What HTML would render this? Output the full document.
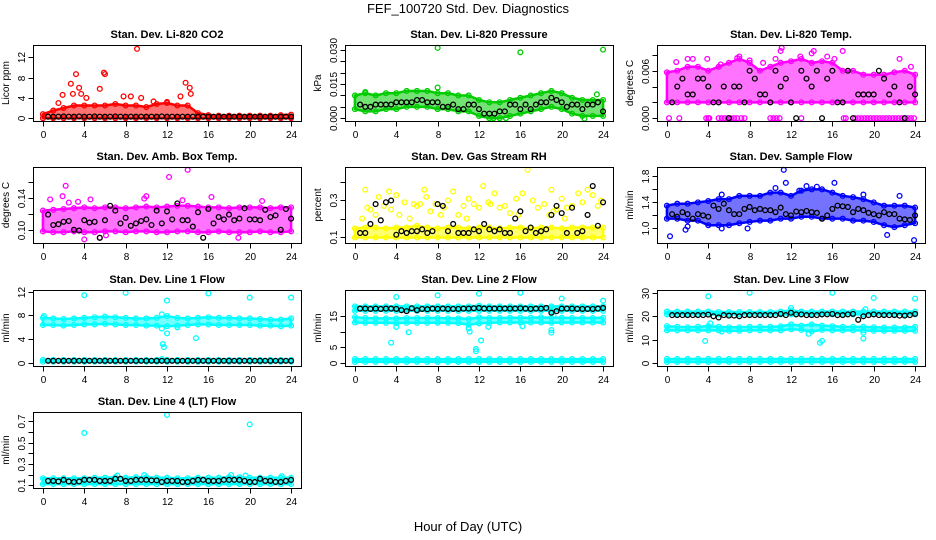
<!DOCTYPE html>
<html><head><meta charset="utf-8"><title>FEF_100720 Std. Dev. Diagnostics</title>
<style>
html,body{margin:0;padding:0;background:#fff;}
svg{display:block;font-family:"Liberation Sans",Arial,sans-serif;}
</style></head>
<body>
<svg id="chart" width="936" height="540" viewBox="0 0 936 540" xmlns="http://www.w3.org/2000/svg">
<rect width="936" height="540" fill="#fff"/>
<text x="468" y="13" text-anchor="middle" font-size="13">FEF_100720  Std. Dev. Diagnostics</text>
<text x="468" y="531" text-anchor="middle" font-size="13">Hour of Day (UTC)</text>
</svg>
<script>
// ---- shared data ----
const xTicks = [0,4,8,12,16,20,24];
const hours = [0,1,2,3,4,5,6,7,8,9,10,11,12,13,14,15,16,17,18,19,20,21,22,23,24];
const blackHours = [0.5,1,1.5,2,2.5,3,3.5,4,4.5,5,5.5,6,6.5,7,7.5,8,8.5,9,9.5,10,10.5,11,11.5,12,12.5,13,13.5,14,14.5,15,15.5,16,16.5,17,17.5,18,18.5,19,19.5,20,20.5,21,21.5,22,22.5,23,23.5,24];

// Panel 1: CO2
const co2BandLo = [0,0,0,0,0,0,0,0,0,0,0,0,0,0,0,0,0,0,0,0,0,0,0,0,0];
const co2BandHi = [0.8,1.5,2,2.5,2.5,2.5,2.5,2.8,2.5,2.5,2.2,2.8,3,2.5,2.5,1,0.6,0.5,0.5,0.5,0.5,0.5,0.5,0.6,0.7];
const co2OutX = [9.1,3.2,5.9,6,2.7,13.8,14.2,5.5,3.5,1.9,2.9,3.7,14.3,13.3,8.5,9.5,7.8,10.7,12,4.2,1.5];
const co2OutY = [13.7,8.7,9,8.7,6.8,7,6,5.8,6,4.6,4.8,4.8,4.8,4.3,4.3,4,4.3,3.3,3.2,4,3];
const co2Black = [0.3,0.3,0.3,0.35,0.3,0.3,0.35,0.3,0.3,0.35,0.3,0.3,0.3,0.35,0.3,0.3,0.3,0.3,0.3,0.3,0.3,0.3,0.35,0.3,0.3,0.3,0.3,0.3,0.3,0.3,0.3,0.3,0.3,0.3,0.3,0.3,0.3,0.3,0.3,0.3,0.3,0.3,0.3,0.3,0.3,0.3,0.3,0.3];

// Panel 2: Pressure
const presBandLo = [0.004,0.003,0.003,0.004,0.004,0.005,0.005,0.005,0.004,0.004,0.003,0.003,0.001,0.0,0.0,0.001,0.002,0.003,0.004,0.005,0.004,0.002,0.001,0.001,0.001];
const presBandHi = [0.010,0.011,0.010,0.011,0.011,0.012,0.012,0.012,0.011,0.011,0.010,0.010,0.008,0.007,0.007,0.008,0.009,0.010,0.011,0.012,0.011,0.009,0.008,0.008,0.008];
const presOutX = [8,16,24,8,1,23.4,22.2,14.6,13.4];
const presOutY = [0.031,0.029,0.0302,0.0135,0.0115,0.0105,-0.0002,0.0,0.0];
const presBlack = [0.006,0.005,0.005,0.006,0.006,0.006,0.006,0.007,0.007,0.007,0.007,0.008,0.008,0.007,0.007,0.007,0.005,0.005,0.006,0.004,0.004,0.006,0.006,0.004,0.002,0.002,0.002,0.003,0.003,0.006,0.006,0.004,0.006,0.004,0.006,0.007,0.007,0.009,0.008,0.007,0.005,0.006,0.006,0.004,0.006,0.006,0.007,0.003];

// Panel 3: Temp
const tempBandLo = [0.002,0.002,0.002,0.002,0.002,0.002,0.002,0.002,0.002,0.002,0.002,0.002,0.002,0.002,0.002,0.002,0.002,0.002,0.002,0.002,0.002,0.002,0.002,0.002,0.002];
const tempBandHi = [0.0058,0.006,0.0065,0.0065,0.006,0.0065,0.007,0.0075,0.007,0.006,0.0065,0.007,0.0072,0.0075,0.007,0.0072,0.007,0.006,0.006,0.0055,0.0055,0.0055,0.0058,0.006,0.0055];
const tempOutX = [0.9,2.5,3.9,5.2,7.0,8.0,10.5,11,12.9,14,15.5,17,11.1,14.2,22.5,23.6,6.8,2,9.3,16.2,0.2,1.2,3.8,4.0,4.1,5.0,5.3,5.6,5.9,6.2,6.5,6.8,7.2,7.5,10.0,10.3,10.6,10.9,13,17.1,17.3,18.2,18.5,18.8,19.1,19.4,19.7,20,20.3,20.6,20.9,21.2,21.5,21.8,22.1,22.4,22.7,23,23.3,23.6,23.9];
const tempOutY = [0.0071,0.0075,0.0075,0.0068,0.0078,0.0073,0.0075,0.0085,0.0078,0.0082,0.0078,0.0085,0.0089,0.0085,0.0075,0.0065,0.0076,0.0075,0.007,0.0075,0,0,0,0,0,0,0,0,0,0,0,0,0,0,0,0,0,0,0,0,0,0,0,0,0,0,0,0,0,0,0,0,0,0,0,0,0,0,0,0,0];
const tempBlack = [0.002,0.004,0.005,0.003,0.003,0.005,0.005,0.004,0.002,0.002,0.004,0.0,0.004,0.004,0.002,0.006,0.005,0.003,0.003,0.002,0.006,0.004,0.005,0.002,0.0,0.006,0.005,0.004,0.006,0.0,0.005,0.006,0.002,0.002,0.006,0.0,0.003,0.003,0.003,0.003,0.006,0.005,0.003,0.004,0.002,0.0,0.004,0.003];

// Panel 4: Amb box temp
const ambBandLo = [0.098,0.097,0.097,0.098,0.097,0.097,0.098,0.098,0.097,0.098,0.098,0.097,0.097,0.098,0.098,0.097,0.097,0.098,0.097,0.097,0.097,0.098,0.097,0.097,0.098];
const ambBandHi = [0.124,0.125,0.126,0.127,0.128,0.127,0.128,0.128,0.127,0.128,0.129,0.128,0.129,0.13,0.13,0.129,0.128,0.128,0.127,0.128,0.128,0.128,0.127,0.128,0.128];
const ambOutX = [14,12.2,2.2,0.7,1.9,4.6,10,16.3,4,18.9,5.5,13.5,21.2,3.4,9.8,2.5,6.1];
const ambOutY = [0.175,0.166,0.155,0.138,0.142,0.138,0.142,0.141,0.088,0.09,0.09,0.137,0.136,0.135,0.139,0.134,0.093];
const ambBlack = [0.119,0.106,0.107,0.11,0.111,0.1,0.099,0.112,0.109,0.11,0.09,0.112,0.13,0.124,0.108,0.115,0.105,0.108,0.111,0.113,0.106,0.124,0.108,0.123,0.113,0.133,0.112,0.112,0.104,0.122,0.09,0.126,0.108,0.116,0.113,0.119,0.112,0.114,0.127,0.113,0.113,0.112,0.125,0.116,0.118,0.1,0.126,0.114];

// Panel 5: RH
const rhBandLo = [0.095,0.095,0.095,0.095,0.095,0.095,0.095,0.095,0.095,0.095,0.095,0.095,0.095,0.095,0.095,0.095,0.095,0.095,0.095,0.095,0.095,0.095,0.095,0.095,0.095];
const rhBandHi = [0.145,0.15,0.15,0.145,0.15,0.15,0.16,0.15,0.145,0.15,0.15,0.145,0.15,0.15,0.145,0.15,0.15,0.145,0.15,0.15,0.145,0.15,0.15,0.15,0.15];
const rhOutX = [0.7,1,1.5,2,2.3,2.8,3.3,3.5,4,4.3,4.8,5.3,5.7,6,6.7,6.9,7.3,7.8,8.6,9,9.5,10,10.5,11,11.5,12,12.4,12.9,13.5,14,14.5,15,15.6,16.2,16.7,17.2,17.7,18.3,19,19.5,20,20.5,21,21.6,22,22.5,23,23.5,23.8,18.8,20.3,8.3,10.8,15.8,1.2,6.3,13.1,19.2];
const rhOutY = [0.2,0.36,0.25,0.22,0.32,0.27,0.35,0.25,0.33,0.22,0.29,0.2,0.28,0.27,0.36,0.32,0.24,0.28,0.26,0.3,0.35,0.22,0.27,0.31,0.28,0.26,0.38,0.29,0.34,0.26,0.27,0.23,0.31,0.34,0.47,0.3,0.26,0.28,0.36,0.25,0.31,0.26,0.27,0.34,0.29,0.36,0.33,0.27,0.3,0.22,0.2,0.22,0.2,0.22,0.26,0.28,0.28,0.24];
const rhBlack = [0.12,0.12,0.17,0.28,0.19,0.29,0.3,0.11,0.13,0.12,0.13,0.13,0.14,0.12,0.13,0.28,0.27,0.13,0.17,0.12,0.12,0.12,0.14,0.13,0.17,0.14,0.13,0.14,0.12,0.12,0.2,0.24,0.13,0.15,0.12,0.13,0.14,0.22,0.27,0.23,0.12,0.26,0.12,0.13,0.22,0.38,0.16,0.29];

// Panel 6: Sample flow
const flowBandLo = [1.15,1.15,1.12,1.12,1.05,1.05,1.05,1.08,1.1,1.12,1.12,1.15,1.15,1.18,1.18,1.15,1.15,1.15,1.12,1.12,1.1,1.05,1.02,1.05,1.08];
const flowBandHi = [1.35,1.38,1.38,1.4,1.42,1.45,1.45,1.5,1.5,1.5,1.55,1.55,1.5,1.58,1.6,1.6,1.55,1.5,1.48,1.45,1.4,1.35,1.35,1.35,1.32];
const flowOutX = [11.3,11.5,16.2,13.5,10.5,19,5.3,0.3,23.9,1.8,7.8,5.3,21.3,2,14.5,12.8,22.5];
const flowOutY = [1.9,1.7,1.7,1.65,1.62,1.52,1.52,0.88,0.82,0.98,1.0,1.0,0.9,1.03,1.64,1.58,1.5];
const flowBlack = [1.22,1.18,1.25,1.22,1.15,1.22,1.2,1.18,1.35,1.3,1.38,1.28,1.22,1.22,1.3,1.33,1.28,1.3,1.28,1.28,1.25,1.32,1.22,1.2,1.26,1.25,1.27,1.25,1.24,1.15,1.2,1.3,1.35,1.34,1.33,1.25,1.3,1.28,1.24,1.22,1.2,1.25,1.22,1.22,1.15,1.14,1.13,1.2];

// Panel 7: Line 1 flow
const l1BandLo = [6.4,6.4,6.3,6.4,6.5,6.5,6.6,6.5,6.4,6.4,6.3,6.3,6.2,6.3,6.4,6.5,6.5,6.4,6.4,6.4,6.4,6.3,6.3,6.2,6.3];
const l1BandHi = [7.6,7.5,7.4,7.5,7.6,7.7,7.8,7.7,7.6,7.5,7.5,7.6,7.9,7.6,7.5,7.6,7.7,7.6,7.6,7.5,7.5,7.4,7.3,7.3,7.5];
const l1Band2Lo = [0.25,0.25,0.25,0.25,0.25,0.25,0.25,0.25,0.25,0.25,0.25,0.25,0.25,0.25,0.25,0.25,0.25,0.25,0.25,0.25,0.25,0.25,0.25,0.25,0.25];
const l1Band2Hi = [0.55,0.55,0.55,0.55,0.55,0.55,0.55,0.55,0.55,0.55,0.55,0.55,0.55,0.55,0.55,0.55,0.55,0.55,0.55,0.55,0.55,0.55,0.55,0.55,0.55];
const l1OutX = [4,8,12,16,20,24,11.5,11.5,12,11.6,11.7,14.8,13,11.5,0.1];
const l1OutY = [11.4,11.8,10.5,11.7,11,11,8.2,5.8,5,3.2,2.7,4.2,6,0.7,7.9];
const l1Black = [0.4,0.4,0.4,0.4,0.4,0.4,0.4,0.4,0.4,0.4,0.4,0.4,0.4,0.4,0.4,0.4,0.4,0.4,0.4,0.4,0.4,0.4,0.4,0.4,0.4,0.4,0.4,0.4,0.4,0.4,0.4,0.4,0.4,0.4,0.4,0.4,0.4,0.4,0.4,0.4,0.4,0.4,0.4,0.4,0.4,0.4,0.4,0.4];

// Panel 8: Line 2 flow
const l2BandLo = [16.6,16.6,16.6,16.6,16.6,16.6,16.6,16.6,16.6,16.6,16.6,16.6,16.6,16.6,16.6,16.6,16.6,16.6,16.6,16.6,16.6,16.6,16.6,16.6,16.6];
const l2BandHi = [18,18,18,18,18,18,18,18,18,18,18,18,18.2,18,18,18,18,18,18,18,18,18,18,18,18];
const l2Band2Lo = [12.9,12.8,12.8,12.8,12.7,12.8,12.8,12.8,12.8,12.8,12.7,12.2,12.6,12.8,12.9,12.9,12.9,12.9,12.9,12.8,12.9,12.9,12.9,12.9,12.9];
const l2Band2Hi = [14.6,14.3,14.2,14.2,14.2,14.3,14.3,14.3,14.3,14.2,14.2,14,14.5,14.3,14.3,14.4,14.4,14.4,14.5,14.4,14.4,14.3,14.3,14.3,14.4];
const l2Band3Lo = [0.4,0.4,0.4,0.4,0.4,0.4,0.4,0.4,0.4,0.4,0.4,0.4,0.4,0.4,0.4,0.4,0.4,0.4,0.4,0.4,0.4,0.4,0.4,0.4,0.4];
const l2Band3Hi = [1.3,1.3,1.3,1.3,1.3,1.3,1.3,1.3,1.3,1.3,1.3,1.3,1.3,1.3,1.3,1.3,1.3,1.3,1.3,1.3,1.3,1.3,1.3,1.3,1.3];
const l2OutX = [4,8,12,16,20,24,3.5,5.2,11.7,11.7,12.2,11.1,19,19,11,12.9,4,19.2,16.2];
const l2OutY = [21,21.5,22,22.3,20.5,19.8,6.5,9.8,4.5,3.8,7.2,10,10.5,9.7,11,11.5,11.5,15,11.7];
const l2Black = [17.3,17.3,17.2,17.3,17.2,17.3,17.3,17.2,16.8,16.5,17.4,16.8,17.2,17.1,17.3,17.2,17.3,17.2,17.2,17.2,17.3,17.3,17.4,17.5,17.3,17.3,17.3,17.3,17.3,17.3,17.3,17.4,17.3,17.2,17.3,17.3,17.5,16,16.5,17.3,17.3,17.3,17.2,17.2,17.2,17.2,17.3,17.5];

// Panel 9: Line 3 flow
const l3BandLo = [20.8,20.8,20.8,20.8,20.8,20.8,20.8,20.8,20.8,20.8,20.8,20.8,20.8,20.8,20.8,20.8,20.8,20.8,20.8,20.8,20.8,20.8,20.8,20.8,20.8];
const l3BandHi = [22,22,22,22,22,21.8,21.8,21.8,21.8,21.8,21.8,22,22.5,22,22,22,22,22,22,22,22,22,22,22,22];
const l3Band2Lo = [14,14,14,14,14,14,13.8,13.8,14,14,14,14,14.5,14.2,13.5,14.2,14,14,14,14,13.8,13.8,13.8,13.8,13.8];
const l3Band2Hi = [15.8,15.5,15.3,15.5,15.8,15.5,15.3,15.3,15.5,15.5,15.5,15.7,16.5,16,16.5,16,15.8,15.5,15.5,15.5,15.3,15.2,15.2,15.2,15.5];
const l3Band3Lo = [0.5,0.5,0.5,0.5,0.5,0.5,0.5,0.5,0.5,0.5,0.5,0.5,0.5,0.5,0.5,0.5,0.5,0.5,0.5,0.5,0.5,0.5,0.5,0.5,0.5];
const l3Band3Hi = [1.8,1.8,1.8,1.8,1.8,1.8,1.8,1.8,1.8,1.8,1.8,1.8,1.8,1.8,1.8,1.8,1.8,1.8,1.8,1.8,1.8,1.8,1.8,1.8,1.8];
const l3OutX = [4,8,16,20,24,3.7,12,15,14.8,19,19,5.3,19.2,4.2,13.7];
const l3OutY = [28.5,30,30,27.8,27.5,9.5,23.5,9.5,8.7,10.5,13,13.5,23,17,12.5];
const l3Black = [20.5,20.5,20.5,20.5,20.5,20.5,20.5,20.7,20,19.5,20.5,20.3,20.3,20,20.5,20.5,20.5,20.5,20.5,20.5,20.5,21,20.5,21.5,20.8,20.8,20.5,20.5,20.5,20.8,20.8,21,20.5,20.5,20.8,21,18.5,20,20.5,20.8,20.5,20.5,20.5,20.5,20.3,20.3,20.5,21];

// Panel 10: Line 4 flow
const l4BandLo = [0.11,0.11,0.11,0.11,0.11,0.11,0.11,0.11,0.11,0.11,0.11,0.11,0.11,0.11,0.11,0.11,0.11,0.11,0.11,0.11,0.11,0.11,0.11,0.11,0.11];
const l4BandHi = [0.165,0.165,0.165,0.165,0.165,0.17,0.17,0.175,0.17,0.175,0.175,0.17,0.17,0.165,0.165,0.17,0.17,0.17,0.175,0.175,0.17,0.17,0.17,0.17,0.17];
const l4OutX = [4,12,20,7.2,9.8,18.2,19.6,23.1];
const l4OutY = [0.59,0.76,0.67,0.19,0.195,0.195,0.19,0.185];
const l4Black = [0.14,0.14,0.135,0.15,0.135,0.13,0.135,0.15,0.15,0.15,0.14,0.14,0.14,0.16,0.16,0.14,0.14,0.15,0.15,0.15,0.145,0.145,0.13,0.14,0.14,0.14,0.13,0.13,0.14,0.15,0.15,0.14,0.14,0.14,0.15,0.15,0.15,0.15,0.14,0.13,0.13,0.16,0.14,0.14,0.13,0.13,0.14,0.15];

// ---- rendering ----
const NS = "http://www.w3.org/2000/svg";
const svg = document.getElementById("chart");
const colLeft = [33,345,657], rowTop = [45,167,290,412], W = 268, H = 76;
const XMIN = -0.96, XMAX = 24.96;

function mk(tag, attrs, parent){
  const e = document.createElementNS(NS, tag);
  for (const k in attrs) e.setAttribute(k, attrs[k]);
  (parent||svg).appendChild(e);
  return e;
}

function panel(cfg){
  const g = mk("g", {});
  
  
  const L = colLeft[cfg.col], T = rowTop[cfg.row];
  const span = cfg.ymax - cfg.ymin, y0 = cfg.ymin - 0.04*span, y1 = cfg.ymax + 0.04*span;
  const sx = h => L + (h - XMIN)/(XMAX - XMIN)*W;
  const sy = v => T + H - (v - y0)/(y1 - y0)*H;
  const t = mk("text", {x: L + W/2, y: T - 7, "text-anchor":"middle", "font-size":"11", "font-weight":"bold"}, g);
  t.textContent = cfg.title;
  
  
  const yt = mk("text", {x: 0, y: 0, "text-anchor":"middle", "font-size":"10", transform:`translate(${L-24},${T+H/2}) rotate(-90)`}, g);
  yt.textContent = cfg.ylab;
  
  
  cfg.bands.forEach(b => {
    let pts = [];
    hours.forEach((h,i) => pts.push(sx(h)+","+sy(b.hi[i])));
    for (let i = hours.length-1; i >= 0; i--) pts.push(sx(hours[i])+","+sy(b.lo[i]));
    const p = mk("polygon", {points: pts.join(" "), fill: cfg.color, "fill-opacity":"0.55", stroke: cfg.color, "stroke-width":"2.5", "stroke-linejoin":"round"}, g);
    
    
    hours.forEach((h,i) => {
      [b.hi[i], b.lo[i]].forEach(v => {
        const c = mk("circle", {cx: sx(h), cy: sy(v), r: 2.4, fill:"none", stroke: cfg.color, "stroke-width":"1.3"}, g);
        
        
      });
    });
  });
  cfg.outX.forEach((h,i) => {
    const c = mk("circle", {cx: sx(h), cy: sy(cfg.outY[i]), r: 2.4, fill:"none", stroke: cfg.color, "stroke-width":"1.3"}, g);
    
    
  });
  blackHours.forEach((h,i) => {
    const c = mk("circle", {cx: sx(h), cy: sy(cfg.black[i]), r: 2.4, fill:"none", stroke:"#000", "stroke-width":"1.3"}, g);
    
    
  });
  const box = mk("rect", {x: L+0.5, y: T+0.5, width: W, height: H, fill:"none", stroke:"#000", "stroke-width":"1"}, g);
  
  
  xTicks.forEach(h => {
    const x = Math.round(sx(h))+0.5;
    mk("line", {x1:x, x2:x, y1:T+H+0.5, y2:T+H+5.5, stroke:"#000"}, g);
    const lb = mk("text", {x:x, y:T+H+17, "text-anchor":"middle", "font-size":"10"}, g);
    lb.textContent = h;
    
    
  });
  mk("line", {x1:Math.round(sx(0))+0.5, x2:Math.round(sx(24))+0.5, y1:T+H+0.5, y2:T+H+0.5, stroke:"#000"}, g);
  cfg.yTicks.forEach((v,i) => {
    const y = Math.round(sy(v))+0.5;
    mk("line", {x1:L+0.5, x2:L-4.5, y1:y, y2:y, stroke:"#000"}, g);
    if (cfg.yLabels[i]) {
      const lb = mk("text", {x:0, y:0, "text-anchor":"middle", "font-size":"10", transform:`translate(${L-8},${y}) rotate(-90)`}, g);
      lb.textContent = cfg.yLabels[i];
      
      
    }
  });
  const yl = sy(cfg.yTicks[0]), yh = sy(cfg.yTicks[cfg.yTicks.length-1]);
  mk("line", {x1:L+0.5, x2:L+0.5, y1:yl, y2:yh, stroke:"#000"}, g);
}

panel({name:"panel-co2", col:0, row:0, title:"Stan. Dev. Li-820 CO2", ylab:"Licor ppm", color:"#ff0000",
  ymin:0, ymax:13.9, yTicks:[0,4,8,12], yLabels:["0","4","8","12"],
  bands:[{lo:co2BandLo, hi:co2BandHi}], outX:co2OutX, outY:co2OutY, black:co2Black});
panel({name:"panel-pressure", col:1, row:0, title:"Stan. Dev. Li-820 Pressure", ylab:"kPa", color:"#00cc00",
  ymin:0, ymax:0.031, yTicks:[0,0.005,0.01,0.015,0.02,0.025,0.03], yLabels:["0.000","","","0.015","","","0.030"],
  bands:[{lo:presBandLo, hi:presBandHi}], outX:presOutX, outY:presOutY, black:presBlack});
panel({name:"panel-temp", col:2, row:0, title:"Stan. Dev. Li-820 Temp.", ylab:"degrees C", color:"#ff00ff",
  ymin:0, ymax:0.0089, yTicks:[0,0.002,0.004,0.006,0.008], yLabels:["0.000","","","0.006",""],
  bands:[{lo:tempBandLo, hi:tempBandHi}], outX:tempOutX, outY:tempOutY, black:tempBlack});
panel({name:"panel-amb-box-temp", col:0, row:1, title:"Stan. Dev. Amb. Box Temp.", ylab:"degrees C", color:"#ff00ff",
  ymin:0.087, ymax:0.175, yTicks:[0.10,0.12,0.14,0.16], yLabels:["0.10","","0.14",""],
  bands:[{lo:ambBandLo, hi:ambBandHi}], outX:ambOutX, outY:ambOutY, black:ambBlack});
panel({name:"panel-rh", col:1, row:1, title:"Stan. Dev. Gas Stream RH", ylab:"percent", color:"#ffff00",
  ymin:0.08, ymax:0.47, yTicks:[0.1,0.2,0.3,0.4], yLabels:["0.1","","0.3",""],
  bands:[{lo:rhBandLo, hi:rhBandHi}], outX:rhOutX, outY:rhOutY, black:rhBlack});
panel({name:"panel-sample-flow", col:2, row:1, title:"Stan. Dev. Sample Flow", ylab:"ml/min", color:"#0000ff",
  ymin:0.82, ymax:1.9, yTicks:[1.0,1.2,1.4,1.6,1.8], yLabels:["1.0","","1.4","","1.8"],
  bands:[{lo:flowBandLo, hi:flowBandHi}], outX:flowOutX, outY:flowOutY, black:flowBlack});
panel({name:"panel-line1-flow", col:0, row:2, title:"Stan. Dev. Line 1 Flow", ylab:"ml/min", color:"#00ffff",
  ymin:0, ymax:11.8, yTicks:[0,4,8,12], yLabels:["0","4","8","12"],
  bands:[{lo:l1BandLo, hi:l1BandHi},{lo:l1Band2Lo, hi:l1Band2Hi}], outX:l1OutX, outY:l1OutY, black:l1Black});
panel({name:"panel-line2-flow", col:1, row:2, title:"Stan. Dev. Line 2 Flow", ylab:"ml/min", color:"#00ffff",
  ymin:0, ymax:22.3, yTicks:[0,5,10,15], yLabels:["0","5","","15"],
  bands:[{lo:l2BandLo, hi:l2BandHi},{lo:l2Band2Lo, hi:l2Band2Hi},{lo:l2Band3Lo, hi:l2Band3Hi}], outX:l2OutX, outY:l2OutY, black:l2Black});
panel({name:"panel-line3-flow", col:2, row:2, title:"Stan. Dev. Line 3 Flow", ylab:"ml/min", color:"#00ffff",
  ymin:0, ymax:30, yTicks:[0,10,20,30], yLabels:["0","10","20","30"],
  bands:[{lo:l3BandLo, hi:l3BandHi},{lo:l3Band2Lo, hi:l3Band2Hi},{lo:l3Band3Lo, hi:l3Band3Hi}], outX:l3OutX, outY:l3OutY, black:l3Black});
panel({name:"panel-line4-flow", col:0, row:3, title:"Stan. Dev. Line 4 (LT) Flow", ylab:"ml/min", color:"#00ffff",
  ymin:0.1, ymax:0.76, yTicks:[0.1,0.2,0.3,0.4,0.5,0.6,0.7], yLabels:["0.1","","0.3","","0.5","","0.7"],
  bands:[{lo:l4BandLo, hi:l4BandHi}], outX:l4OutX, outY:l4OutY, black:l4Black});
</script>
</body></html>
